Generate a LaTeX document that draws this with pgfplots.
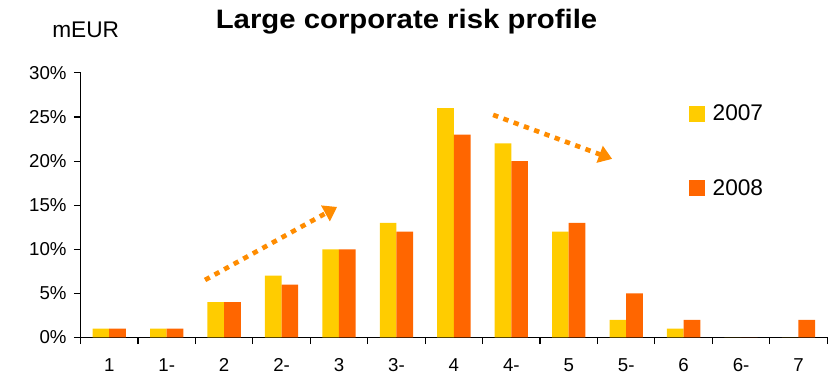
\documentclass[border=0pt]{standalone}
\usepackage{fontspec}
\setmainfont{Liberation Sans}
\usepackage{pgfplots}
\pgfplotsset{compat=1.18}
\usetikzlibrary{arrows.meta}
\definecolor{cyel}{RGB}{255,204,0}
\definecolor{corg}{RGB}{255,102,0}
\definecolor{carr}{RGB}{255,140,0}
\begin{document}
\begin{tikzpicture}
\useasboundingbox (-60.4pt,-29.6pt) rectangle (566.6pt,253.1pt);
\begin{axis}[
  scale only axis,
  width=560pt, height=198.4pt,
  at={(0pt,0pt)}, anchor=south west,
  ybar=0pt, bar width=12.5pt,
  xmin=-0.5, xmax=12.5, ymin=0, ymax=30,
  axis x line*=bottom, axis y line*=left,
  axis line style={-, black, line width=0.8pt},
  xtick={-0.5,0.5,...,12.5},
  xticklabels={1,1-,2,2-,3,3-,4,4-,5,5-,6,6-,7,{}},
  ytick={0,5,...,30},
  yticklabel={\pgfmathprintnumber{\tick}\%},
  /pgf/number format/assume math mode=true,
  tick align=outside,
  major tick length=5pt,
  every tick/.style={black, line width=0.8pt},
  tick label style={font=\fontsize{14}{16}\selectfont},
  xticklabel style={yshift=-7.5pt, xshift=21.54pt},
  yticklabel style={xshift=-2pt},
  legend style={at={(0.815,0.89)}, anchor=north west, draw=none, fill=none,
    font=\fontsize{17}{20}\selectfont, inner sep=0pt, row sep=38.5pt,
    /tikz/every odd column/.style={column sep=3.5pt}},
  legend cell align=left,
  legend image code/.code={\fill[#1,draw=none] (0pt,-6pt) rectangle (12pt,6pt);},
]
\addplot[fill=cyel, draw=none] coordinates {
(0,1) (1,1) (2,4) (3,7) (4,10) (5,13) (6,26) (7,22) (8,12) (9,2) (10,1) (11,0) (12,0)};
\addplot[fill=corg, draw=none] coordinates {
(0,1) (1,1) (2,4) (3,6) (4,10) (5,12) (6,23) (7,20) (8,13) (9,5) (10,2) (11,0) (12,2)};
\legend{2007,2008}
\draw[carr, line width=3.5pt, dash pattern=on 4pt off 4.2pt,
  -{Triangle[length=10pt,width=13pt]}]
  (axis cs:1.668,6.52) -- (axis cs:3.967,14.8);
\draw[carr, line width=3.5pt, dash pattern=on 4pt off 4.2pt,
  -{Triangle[length=10pt,width=13pt]}]
  (axis cs:6.684,25.24) -- (axis cs:8.756,20.25);
\end{axis}
\node[anchor=base, inner sep=0pt] at (244.5pt,231.9pt)
  {\scalebox{1.1}[1]{\fontsize{20}{24}\selectfont\bfseries Large corporate risk profile}};
\node[anchor=base, inner sep=0pt] at (3.9pt,225.2pt)
  {\fontsize{17}{20}\selectfont mEUR};
\end{tikzpicture}
\end{document}
